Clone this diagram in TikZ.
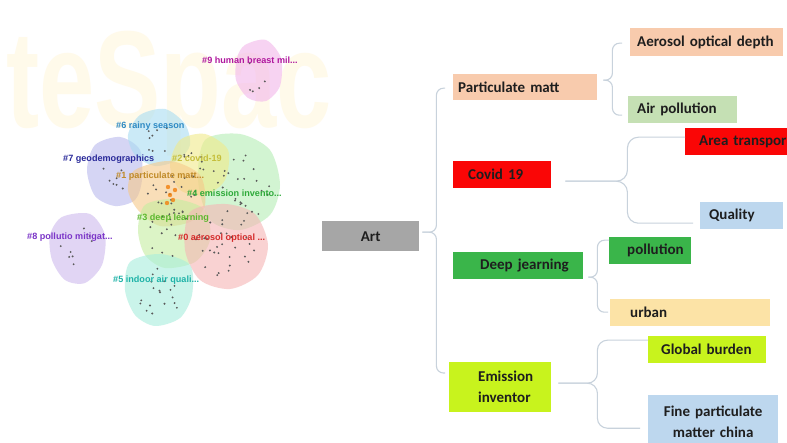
\documentclass[tikz,border=0pt]{standalone}
\usepackage{fontspec}
\setmainfont{Carlito}
\newfontfamily\labfont{Liberation Sans}
\newfontfamily\wmfont{Liberation Sans}
\usetikzlibrary{calc}
\definecolor{artgray}{HTML}{A6A6A6}
\definecolor{peach}{HTML}{F8CBAD}
\definecolor{lgreen}{HTML}{C5E0B4}
\definecolor{bred}{HTML}{FA0606}
\definecolor{lblue}{HTML}{BDD7EE}
\definecolor{bgreen}{HTML}{3AB54A}
\definecolor{lime}{HTML}{C8F31D}
\definecolor{lorange}{HTML}{FCE3A6}
\definecolor{conncol}{HTML}{C8D2DC}
\definecolor{txt}{HTML}{1E1E1E}
\definecolor{wm}{HTML}{FFFAEA}
\definecolor{dotc}{HTML}{5A5A5A}
\definecolor{b9}{HTML}{F2B6EA}\definecolor{l9}{HTML}{B0189E}
\definecolor{b6}{HTML}{A9DDF2}\definecolor{l6}{HTML}{2E8AC4}
\definecolor{b7}{HTML}{B9B9EE}\definecolor{l7}{HTML}{2A2A9A}
\definecolor{b2}{HTML}{F0EA8A}\definecolor{l2}{HTML}{C5BE3A}
\definecolor{b4}{HTML}{B4EDB4}\definecolor{l4}{HTML}{2EAA3A}
\definecolor{b1}{HTML}{F6C98A}\definecolor{l1}{HTML}{C08A28}
\definecolor{b3}{HTML}{C5EDA0}\definecolor{l3}{HTML}{5CB82E}
\definecolor{b0}{HTML}{F5B5B5}\definecolor{l0}{HTML}{D42A2A}
\definecolor{b8}{HTML}{CDB9EE}\definecolor{l8}{HTML}{7B35C8}
\definecolor{b5}{HTML}{A8EEDC}\definecolor{l5}{HTML}{1FB3A8}
\tikzset{
  box/.style={rectangle, inner sep=0pt, anchor=north west, text=txt,
    font=\bfseries\fontsize{15}{21}\selectfont},
  conn/.style={draw=conncol, line width=1.1pt, rounded corners=7pt},
  blob/.style={fill opacity=0.6},
  clab/.style={anchor=west, inner sep=0pt, font=\labfont\bfseries\fontsize{9.1}{10}\selectfont}
}
\begin{document}
\begin{tikzpicture}[x=1pt,y=-1pt]
\useasboundingbox (0,0) rectangle (787,443);
\clip (0,0) rectangle (787,443);
\fill[white] (0,0) rectangle (787,443);
% watermark
\node[anchor=base west, inner sep=0pt, text=wm, xscale=0.72,
  font=\wmfont\bfseries\fontsize{138}{138}\selectfont] (wmk) at (6,128) {teSpac};
% blobs
\fill[b9,blob] plot[smooth cycle] coordinates {(245,45) (266,40) (281,58) (280,86) (266,101) (248,98) (236,80) (237,58)};
\fill[b7,blob] plot[smooth cycle] coordinates {(95,145) (120,137) (140,150) (142,180) (135,200) (115,206) (95,196) (87,170)};
\fill[b6,blob] plot[smooth cycle] coordinates {(140,115) (165,109) (185,124) (190,145) (178,160) (155,166) (135,155) (128,135)};
\fill[b4,blob] plot[smooth cycle] coordinates {(205,140) (240,134) (270,150) (280,185) (270,215) (240,230) (210,220) (198,180)};
\fill[b2,blob] plot[smooth cycle] coordinates {(180,140) (205,134) (228,150) (225,180) (205,195) (180,190) (170,165)};
\fill[b1,blob] plot[smooth cycle] coordinates {(135,170) (170,161) (200,175) (205,205) (190,222) (160,226) (138,210) (128,190)};
\fill[b3,blob] plot[smooth cycle] coordinates {(145,205) (175,199) (205,210) (210,240) (195,262) (165,268) (145,255) (138,230)};
\fill[b0,blob] plot[smooth cycle] coordinates {(190,212) (225,204) (255,214) (268,245) (258,275) (230,289) (200,280) (185,250)};
\fill[b8,blob] plot[smooth cycle] coordinates {(62,217) (90,214) (105,235) (102,265) (85,283) (65,280) (52,260) (50,235)};
\fill[b5,blob] plot[smooth cycle] coordinates {(130,262) (160,254) (190,265) (192,295) (180,318) (155,326) (135,315) (125,290)};
% dots
\pgfmathsetseed{11}
\foreach \cx/\cy/\rx/\ry/\n in {256/78/12/18/5, 158/140/20/14/8, 112/175/20/25/8, 198/165/20/18/10,
  240/185/32/38/26, 168/195/28/22/20, 172/235/28/25/15, 228/248/33/32/30, 78/250/20/25/8, 158/292/26/26/18}{
  \foreach \i in {1,...,\n}{
    \pgfmathsetmacro\ang{360*rnd}
    \pgfmathsetmacro\rad{sqrt(rnd)}
    \fill[dotc] ({\cx+\rx*\rad*cos(\ang)},{\cy+\ry*\rad*sin(\ang)}) circle[radius=1.05pt];
  }
}
\foreach \px/\py in {170/195,173/200,167/203,175/190,168/187}{
  \fill[orange!80!brown, opacity=0.8] (\px,\py) circle[radius=2.2pt];
}
% cluster labels
\node[clab, text=l9] (c9) at (202,60) {\#9 human breast mil...};
\node[clab, text=l6] (c6) at (116,126) {\#6 rainy season};
\node[clab, text=l7] (c7) at (63,159) {\#7 geodemographics};
\node[clab, text=l2] (c2) at (172,158) {\#2 covid-19};
\node[clab, text=l1] (c1) at (116,176) {\#1 particulate matt...};
\node[clab, text=l4] (c4) at (187,193) {\#4 emission invento...};
\node[clab, text=l3] (c3) at (137,218) {\#3 deep learning};
\node[clab, text=l0] (c0) at (178,238) {\#0 aerosol optical ...};
\node[clab, text=l8] (c8) at (27,237) {\#8 pollutio mitigat...};
\node[clab, text=l5] (c5) at (113,280) {\#5 indoor air quali...};
% tree boxes
\node[box, fill=artgray, text width=97pt, minimum height=30pt, align=center] (art) at (322,221) {Art};
\node[box, fill=peach, text width=144pt, minimum height=26pt, align=left] (pm) at (453,74) {\hspace*{5pt}Particulate matt};
\node[box, fill=bred, text width=98pt, minimum height=27pt, align=left] (cv) at (453,161) {\hspace*{15pt}Covid 19};
\node[box, fill=bgreen, text width=130pt, minimum height=27pt, align=left] (dl) at (453,252) {\hspace*{27pt}Deep jearning};
\node[box, fill=lime, text width=102pt, minimum height=50pt, align=left] (ei) at (449,362) {\hspace*{29pt}Emission\\\hspace*{29pt}inventor};
\node[box, fill=peach, text width=153pt, minimum height=28pt, align=left] (aod) at (630,28) {\hspace*{7pt}Aerosol optical depth};
\node[box, fill=lgreen, text width=109pt, minimum height=27pt, align=left] (ap) at (628,96) {\hspace*{9pt}Air pollution};
\node[box, fill=bred, text width=104pt, minimum height=27pt, align=left] (at) at (685,128) {\hspace*{14pt}Area transpor};
\node[box, fill=lblue, text width=83pt, minimum height=27pt, align=left] (q) at (700,202) {\hspace*{9pt}Quality};
\node[box, fill=bgreen, text width=82pt, minimum height=27pt, align=left] (pol) at (609,237) {\hspace*{18pt}pollution};
\node[box, fill=lorange, text width=160pt, minimum height=27pt, align=left] (ur) at (610,299) {\hspace*{20pt}urban};
\node[box, fill=lime, text width=118pt, minimum height=27pt, align=left] (gb) at (648,336) {\hspace*{13pt}Global burden};
\node[box, fill=lblue, text width=130pt, minimum height=54pt, align=center] (fp) at (648,395) {Fine particulate\\matter china};
% connectors (braces)
\coordinate (artT) at ($(art.east)+(3,-4)$);
\draw[conn] (artT) -- ++(14,0) |- ($(pm.west)+(-8,1)$);
\draw[conn] (artT) -- ++(14,0) |- ($(ei.north west)+(-4,11)$);
\coordinate (pmT) at ($(pm.east)+(6,-7)$);
\draw[conn] (pmT) -- ++(9,0) |- ($(aod.west)+(-8,1)$);
\draw[conn] (pmT) -- ++(9,0) |- ($(ap.west)+(-6,5.5)$);
\coordinate (cvT) at ($(cv.east)+(14,6.5)$);
\draw[conn, rounded corners=11pt] (cvT) -- ++(62,0) |- ($(at.west)+(0,-4.5)$);
\draw[conn, rounded corners=11pt] (cvT) -- ++(62,0) |- ($(q.west)+(-7,7.5)$);
\coordinate (dlT) at ($(dl.east)+(5,11.5)$);
\draw[conn] (dlT) -- ++(9,0) |- ($(pol.west)+(0,-10.5)$);
\draw[conn] (dlT) -- ++(9,0) |- ($(ur.west)+(-2,-0.5)$);
\coordinate (eiT) at ($(ei.east)+(7,-4)$);
\draw[conn, rounded corners=10pt] (eiT) -- ++(39,0) |- ($(gb.west)+(0,-9.5)$);
\draw[conn, rounded corners=10pt] (eiT) -- ++(39,0) |- ($(fp.west)+(-8,6)$);
\end{tikzpicture}
\end{document}
